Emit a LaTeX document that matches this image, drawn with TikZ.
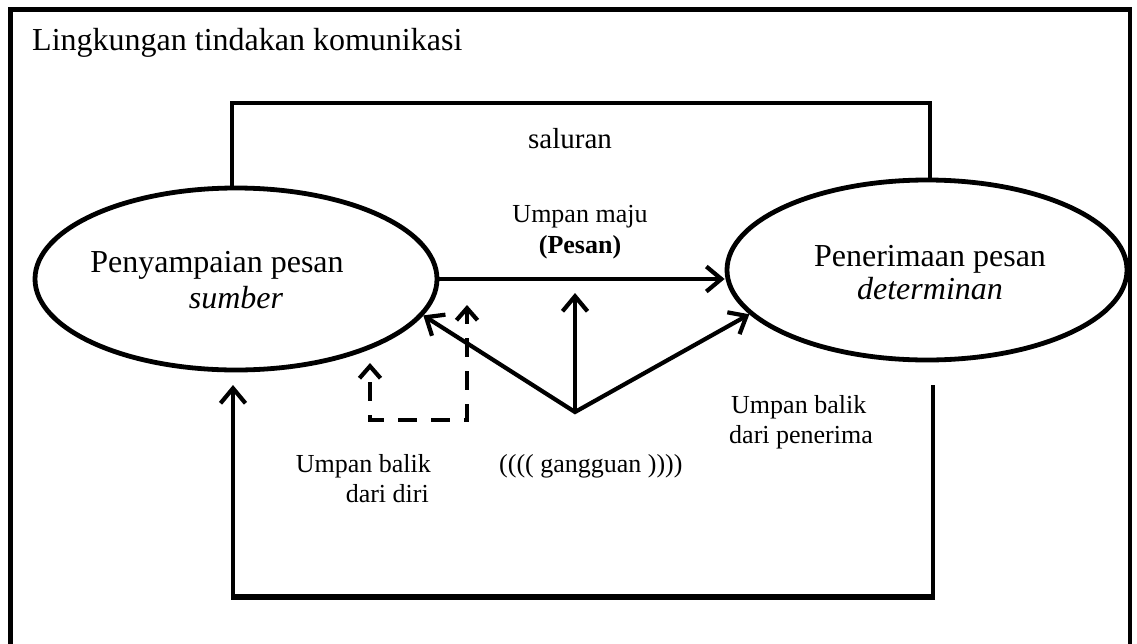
\documentclass[tikz,border=0pt]{standalone}
\usepackage{fontspec}
\setmainfont{Liberation Serif}
\usetikzlibrary{arrows.meta,shapes.geometric}
\begin{document}
\begin{tikzpicture}[x=1pt,y=-1pt,
  stage/.style={ellipse, draw, line width=4.8pt, inner sep=0pt,
    minimum width=402pt, minimum height=182pt},
  heavy/.style={line width=4.8pt},
  flow/.style={line width=4.2pt, -{Straight Barb[length=15pt,width=25pt]}},
  twoflow/.style={line width=4.2pt,
    {Straight Barb[length=15pt,width=25pt]}-{Straight Barb[length=15pt,width=25pt]}},
  selfloop/.style={line width=4.2pt, dash pattern=on 19pt off 14pt, dash phase=-14pt,
    {Straight Barb[length=12pt,width=21pt]}-{Straight Barb[length=12pt,width=21pt]}},
  txt/.style={inner sep=0pt},
  big/.style={txt, font=\fontsize{32}{36}\selectfont},
  mid/.style={txt, font=\fontsize{29}{34}\selectfont},
  small/.style={txt, font=\fontsize{26}{30}\selectfont}
]
\useasboundingbox (0,0) rectangle (1137,643);

% outer frame (open at the lower edge of the page)
\draw[line width=4.5pt] (10.5,9.5) rectangle (1130,700);
\node[big, anchor=base west] (title) at (32,50) {Lingkungan tindakan komunikasi};

% sender and receiver
\node[stage] (src) at (236,279) {};
\node[stage, minimum width=400pt, minimum height=180pt] (dst) at (927,270) {};
\node[big, anchor=base] (srcname) at (217,272) {Penyampaian pesan};
\node[big, anchor=base] (srcrole) at (236,308) {\textit{sumber}};
\node[big, anchor=base] (dstname) at (930,266) {Penerimaan pesan};
\node[big, anchor=base] (dstrole) at (930,299) {\textit{determinan}};

% channel
\coordinate (chantop) at (930,103);
\draw[heavy] ([xshift=-4pt]src.north) |- (chantop) -- ([xshift=3pt]dst.north);
\node[mid, anchor=base] (chan) at (570,148) {saluran};

% forward message
\draw[flow] (src.east) -- (src.east -| dst.west);
\node[small, anchor=base] (fwd) at (580,222) {Umpan maju};
\node[small, anchor=base] (msg) at (580,253) {\textbf{(Pesan)}};

% noise
\coordinate (noise) at (575,412);
\coordinate (msgpt) at (575,293);
\draw[twoflow] (src.-11) -- (noise) -- (dst.194);
\draw[flow] (noise) -- (msgpt);
\node[small, anchor=base west] (noiselbl) at (499,472) {(((( gangguan ))))};

% self feedback
\coordinate (selfA) at (370,363);
\coordinate (selfB) at (467,305);
\coordinate (selfC) at (467,420);
\draw[selfloop] (selfA) |- (selfC) -- (selfB);
\node[small, anchor=base east] (self1) at (431,472) {Umpan balik};
\node[small, anchor=base east] (self2) at (429,502) {dari diri};

% feedback from receiver
\coordinate (fbR) at (933,385);
\coordinate (fbL) at (233,385);
\coordinate (fbBR) at (933,597);
\coordinate (fbBL) at (233,597);
\draw[flow] (fbR) -- (fbBR) -- (fbBL) -- (fbL);
\draw[line width=6pt] ([xshift=2pt]fbBR) -- ([xshift=-2pt]fbBL);
\node[small, anchor=base west] (recv1) at (731,413) {Umpan balik};
\node[small, anchor=base west] (recv2) at (729,443) {dari penerima};
\end{tikzpicture}
\end{document}
